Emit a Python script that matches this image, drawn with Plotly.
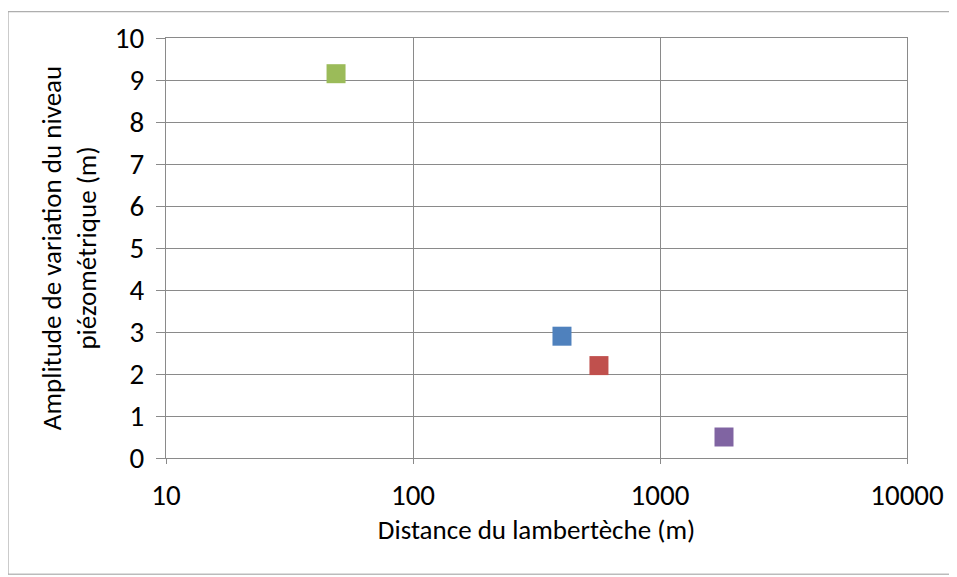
import plotly.graph_objects as go

# points mesurés (distance en m, amplitude en m)
distance = [401, 566, 48.8, 1816]
amplitude = [2.9, 2.2, 9.15, 0.5]
couleurs = ['#4F81BD', '#C0504D', '#9BBB59', '#8064A2']

x_ticks = [10, 100, 1000, 10000]
y_ticks = list(range(0, 11))

police = "Carlito, Lato, sans-serif"
gris = '#8a8a8a'

fig = go.Figure()
for xd, yd, c in zip(distance, amplitude, couleurs):
    fig.add_trace(go.Scatter(
        x=[xd], y=[yd],
        mode='markers',
        marker=dict(symbol='square', size=19, color=c, line=dict(width=0)),
        showlegend=False
    ))

# la page ajoute une marge de 8 px autour de la figure
fig.update_layout(
    width=949, height=569,
    plot_bgcolor='white', paper_bgcolor='white',
    margin=dict(l=158, r=50, t=27, b=119),
    font=dict(family=police, size=22.5, color='black'),
    xaxis=dict(
        type='log', range=[1, 4],
        tickvals=x_ticks, ticktext=[str(v) for v in x_ticks],
        tickfont=dict(size=29),
        showgrid=True, gridcolor=gris, gridwidth=1,
        showline=True, linecolor=gris, mirror=True,
        ticks='outside', ticklen=5, tickcolor=gris,
        ticklabelstandoff=6,
        title=dict(text='Distance du lambertèche (m)', standoff=8),
        zeroline=False
    ),
    yaxis=dict(
        range=[0, 10],
        tickvals=y_ticks,
        tickfont=dict(size=29),
        showgrid=True, gridcolor=gris, gridwidth=1,
        showline=True, linecolor=gris, mirror=True,
        ticks='outside', ticklen=9, tickcolor=gris,
        ticklabelstandoff=6,
        title=dict(text='Amplitude de variation du niveau<br>piézométrique (m)',
                   standoff=10),
        zeroline=False
    ),
    shapes=[dict(
        type='rect', xref='paper', yref='paper',
        x0=-0.2132, x1=1.058, y0=-0.2766, y1=1.0626,
        line=dict(color='#9a9a9a', width=1), layer='below'
    )]
)

fig.write_html("out.html")
